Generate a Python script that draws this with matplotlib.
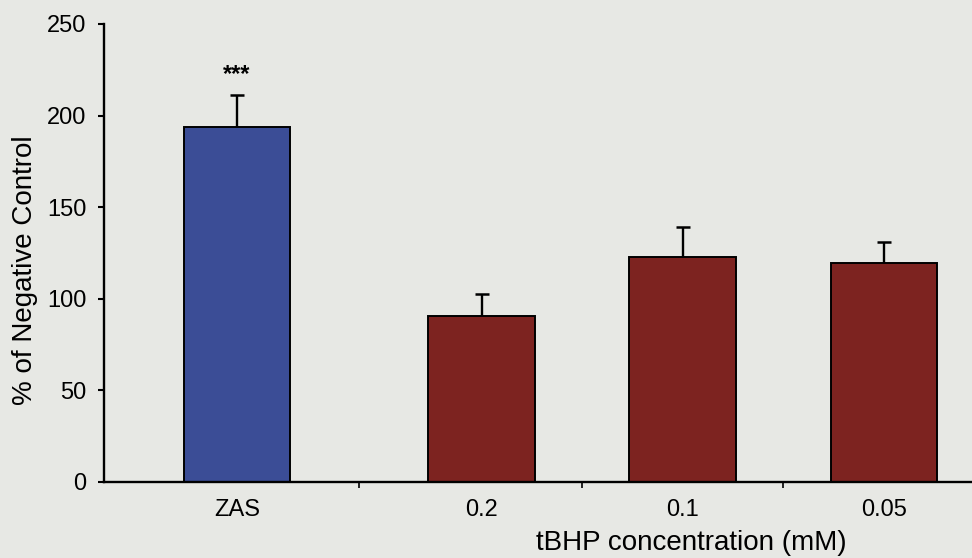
import numpy as np
import matplotlib
matplotlib.use("Agg")
import matplotlib.pyplot as plt

plt.rcParams["font.family"] = ["Liberation Sans", "DejaVu Sans"]

# Data
categories = ["ZAS", "0.2", "0.1", "0.05"]
values = [194, 90.7, 122.6, 119.5]
errors = [17, 12, 16.5, 11.5]
significance = ["***", "", "", ""]
y_ticks = [0, 50, 100, 150, 200, 250]

# Styling
bg = "#e7e8e4"
bar_colors = ["#3b4d96", "#7d2320", "#7d2320", "#7d2320"]

n = len(categories)
# positive control sits a little apart from the tBHP series
x = np.arange(n) + np.r_[0.0, np.full(n - 1, 0.215)]

fig = plt.figure(figsize=(9.72, 5.58), dpi=100, facecolor=bg)
ax = fig.add_axes([104 / 972, 1 - 482 / 558, 1 - 104 / 972, (482 - 24) / 558])
ax.set_facecolor(bg)

ax.bar(x, values, width=0.53, color=bar_colors, edgecolor="black", linewidth=1.4, zorder=2)
eb = ax.errorbar(x, values, yerr=[np.zeros(n), errors], fmt="none", ecolor="black",
                 elinewidth=1.7, capsize=4.8, capthick=1.8, zorder=3)
# upper whisker only: hide the cap sitting on the bar top
eb[1][0].set_visible(False)

for xi, v, e, s in zip(x, values, errors, significance):
    if s:
        ax.annotate(s, (xi, v + e), xytext=(0, 7), textcoords="offset points",
                    ha="center", va="bottom", fontsize=17, fontweight="bold")

ax.set_xlim(-0.661, 3.652)
ax.set_ylim(0, 250)
ax.set_yticks(y_ticks)
ax.set_yticklabels([str(t) for t in y_ticks], fontsize=17)

# category labels without tick marks; small separator ticks between groups
ax.set_xticks(x)
ax.set_xticklabels(categories, fontsize=17)
ax.tick_params(axis="x", which="major", length=0, pad=12)
ax.set_xticks((x[:-1] + x[1:]) / 2, minor=True)
ax.tick_params(axis="x", which="minor", length=4, width=1.2, direction="out")
ax.tick_params(axis="y", length=4, width=1.5, direction="out", pad=8.6)

for side in ("top", "right"):
    ax.spines[side].set_visible(False)
for side in ("left", "bottom"):
    ax.spines[side].set_linewidth(1.7)

fig.text(691 / 972, 1 - 543 / 558, "tBHP concentration (mM)", ha="center", va="center", fontsize=20)
fig.text(25 / 972, 1 - 270 / 558, "% of Negative Control", ha="center", va="center",
         rotation=90, fontsize=20)

fig.savefig("out.png", dpi=100, facecolor=bg)
